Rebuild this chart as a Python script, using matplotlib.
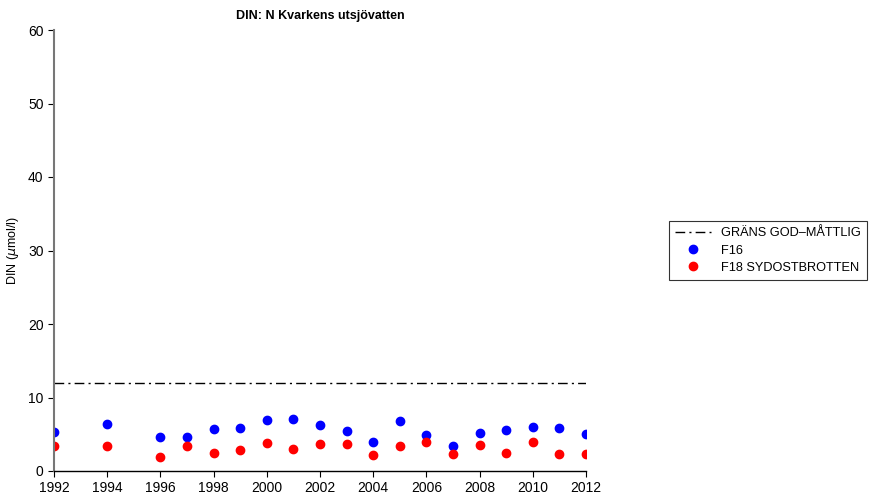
import matplotlib
matplotlib.use('Agg')
import matplotlib.pyplot as plt

plt.rcParams['font.family'] = ['Liberation Sans', 'DejaVu Sans']

years_f16 = [1992, 1994, 1996, 1997, 1998, 1999, 2000, 2001, 2002, 2003,
             2004, 2005, 2006, 2007, 2008, 2009, 2010, 2011, 2012]
din_f16 = [5.27, 6.45, 4.59, 4.59, 5.73, 5.91, 7.0, 7.14, 6.27, 5.45,
           3.91, 6.82, 4.95, 3.36, 5.23, 5.55, 6.05, 5.86, 5.09]

years_f18 = [1992, 1994, 1996, 1997, 1998, 1999, 2000, 2001, 2002, 2003,
             2004, 2005, 2006, 2007, 2008, 2009, 2010, 2011, 2012]
din_f18 = [3.41, 3.45, 1.86, 3.36, 2.5, 2.82, 3.86, 3.0, 3.68, 3.68,
           2.18, 3.45, 3.95, 2.27, 3.55, 2.5, 3.91, 2.32, 2.27]

grans_years = [1992, 2012]
grans_value = [12, 12]

xticks = list(range(1992, 2013, 2))
yticks = [0, 10, 20, 30, 40, 50, 60]

fig = plt.figure(figsize=(8.7, 5.04), dpi=100)
ax = fig.add_axes([54/870, 33/504, 532/870, 441/504])

ax.plot(grans_years, grans_value, color='black', linestyle=(0, (7, 3, 1.5, 3)),
        linewidth=1, label='GRÄNS GOD\u2013MÅTTLIG')
ax.plot(years_f16, din_f16, 'o', color='blue', markersize=6, label='F16')
ax.plot(years_f18, din_f18, 'o', color='red', markersize=6, label='F18 SYDOSTBROTTEN')

ax.set_xlim(1992, 2012)
ax.set_ylim(0, 60)
ax.set_xticks(xticks)
ax.set_yticks(yticks)
ax.tick_params(direction='out', length=4, labelsize=10)
for s in ['top', 'right']:
    ax.spines[s].set_visible(False)
ax.spines['left'].set_color('#777777')
ax.spines['left'].set_linewidth(1.5)
ax.spines['bottom'].set_linewidth(1)
for lab in ax.get_xticklabels() + ax.get_yticklabels():
    lab.set_clip_on(False)

ax.set_ylabel('DIN ($\\mu$mol/l)', fontsize=9)
ax.yaxis.set_label_coords(-0.062, 0.5)
ax.set_title('DIN: N Kvarkens utsjövatten', fontsize=9, fontweight='bold', pad=8)

leg = fig.legend(loc='center left', bbox_to_anchor=(669/870, 1 - 250.5/504),
                 frameon=True, fancybox=False, fontsize=9.2, borderpad=0.5,
                 handlelength=2.8, handletextpad=0.75, labelspacing=0.42,
                 borderaxespad=0)
leg.get_frame().set_edgecolor('black')
leg.get_frame().set_linewidth(0.8)

fig.savefig('out.png', dpi=100)
